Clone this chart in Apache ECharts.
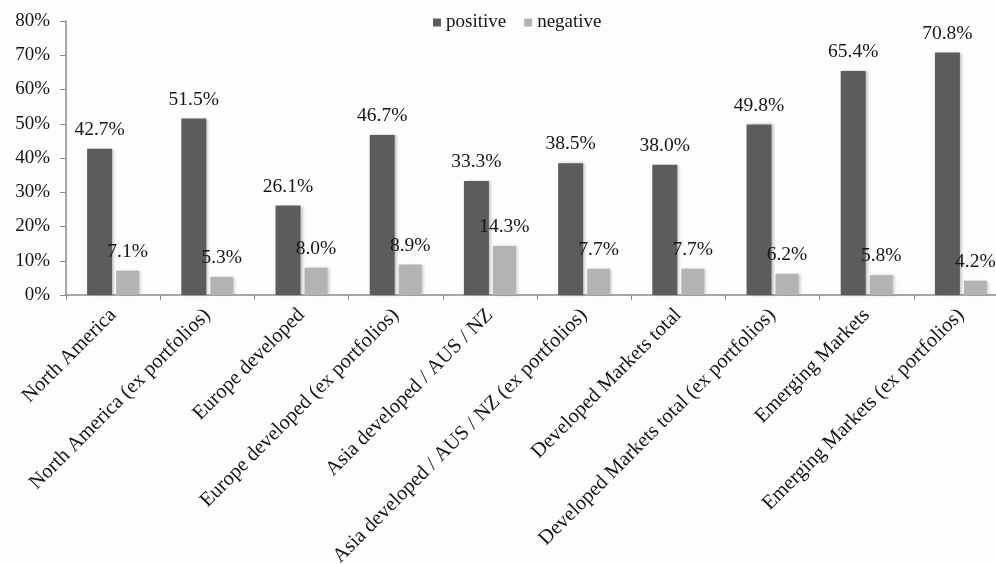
<!DOCTYPE html>
<html>
<head>
<meta charset="utf-8">
<style>
  html, body { margin: 0; padding: 0; background: #fdfdfd; }
  #chart-container { width: 996px; height: 564px; }
</style>
<script src="https://cdn.jsdelivr.net/npm/echarts@6/dist/echarts.min.js"></script>
</head>
<body>
<div id="chart-container"></div>
<script>
const categories = [
  'North America',
  'North America (ex portfolios)',
  'Europe developed',
  'Europe developed (ex portfolios)',
  'Asia developed / AUS / NZ',
  'Asia developed / AUS / NZ (ex portfolios)',
  'Developed Markets total',
  'Developed Markets total (ex portfolios)',
  'Emerging Markets',
  'Emerging Markets (ex portfolios)'
];
const positive = [42.7, 51.5, 26.1, 46.7, 33.3, 38.5, 38.0, 49.8, 65.4, 70.8];
const negative = [7.1, 5.3, 8.0, 8.9, 14.3, 7.7, 7.7, 6.2, 5.8, 4.2];

const serif = "'Liberation Serif', 'Times New Roman', serif";
const textColor = '#151515';

const chart = echarts.init(document.getElementById('chart-container'));

const barLabel = {
  show: true,
  position: 'top',
  distance: 9,
  fontFamily: serif,
  fontSize: 19.5,
  color: textColor,
  formatter: (p) => p.value.toFixed(1) + '%'
};

const option = {
  backgroundColor: '#fdfdfd',
  animation: false,
  legend: {
    left: 428,
    top: 8,
    itemWidth: 8,
    itemHeight: 8,
    itemGap: 18,
    icon: 'rect',
    textStyle: { fontFamily: serif, fontSize: 19, color: textColor },
    data: ['positive', 'negative']
  },
  // the long category labels run off the bottom edge in the original
  grid: { left: 66, right: -12, top: 21, bottom: 269, containLabel: false, outerBoundsMode: 'none' },
  xAxis: {
    type: 'category',
    data: categories,
    axisLine: { lineStyle: { color: '#8a8a8a', width: 1.5 } },
    axisTick: { show: true, length: 5, lineStyle: { color: '#8a8a8a' } },
    axisLabel: {
      rotate: 45,
      interval: 0,
      margin: 17,
      fontFamily: serif,
      fontSize: 20.5,
      color: textColor
    }
  },
  yAxis: {
    type: 'value',
    min: 0,
    max: 80,
    interval: 10,
    axisLine: { show: true, lineStyle: { color: '#8a8a8a', width: 1.5 } },
    axisTick: { show: true, length: 6, inside: false, lineStyle: { color: '#8a8a8a' } },
    splitLine: { show: false },
    axisLabel: {
      margin: 16,
      fontFamily: serif,
      fontSize: 19,
      color: textColor,
      formatter: '{value}%'
    }
  },
  series: [
    {
      name: 'positive',
      type: 'bar',
      data: positive,
      barWidth: 25,
      barGap: '16%',
      itemStyle: {
        color: '#5c5c5c',
        shadowColor: 'rgba(0,0,0,0.25)',
        shadowBlur: 3,
        shadowOffsetX: 2
      },
      label: barLabel
    },
    {
      name: 'negative',
      type: 'bar',
      data: negative,
      barWidth: 23,
      itemStyle: {
        color: '#b3b3b3',
        shadowColor: 'rgba(0,0,0,0.2)',
        shadowBlur: 3,
        shadowOffsetX: 2
      },
      label: barLabel
    }
  ]
};

chart.setOption(option);
</script>
</body>
</html>
